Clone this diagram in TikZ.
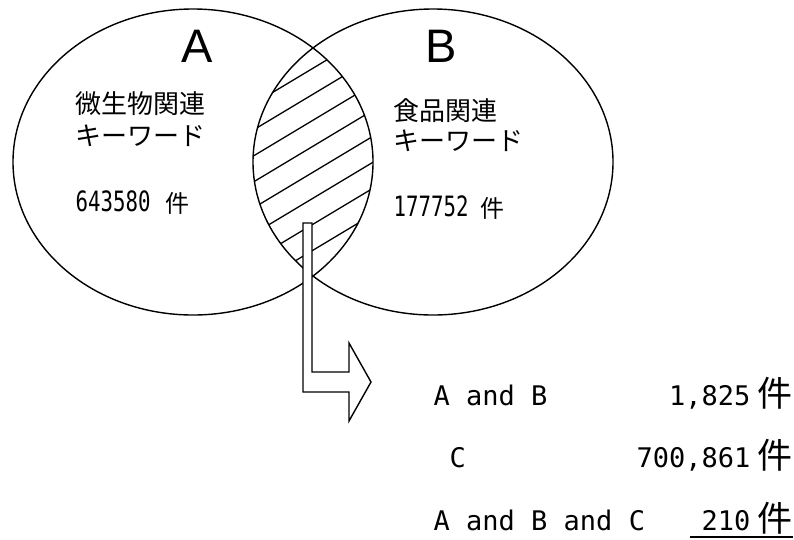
\documentclass[tikz,border=0pt]{standalone}
\usepackage{fontspec}
\usepackage{graphicx}
\setmainfont{Liberation Sans}
\newfontfamily\jpfont{Noto Sans CJK JP}
\newfontfamily\monofnt{DejaVu Sans Mono}
\begin{document}
\begin{tikzpicture}[x=1pt,y=-1pt,line width=1.4pt,
  biglet/.style={font=\fontsize{47}{50}\selectfont,inner sep=0,anchor=base},
  jplabel/.style={font=\jpfont\fontsize{26}{30}\selectfont,inner sep=0,anchor=west},
  cntnum/.style={font=\monofnt\fontsize{28}{30}\selectfont,inner sep=0,anchor=base west},
  cntken/.style={font=\jpfont\fontsize{24}{26}\selectfont,inner sep=0,anchor=base west},
  rowlab/.style={font=\monofnt\fontsize{27}{30}\selectfont,inner sep=0,anchor=base west},
  rownum/.style={font=\monofnt\fontsize{27}{30}\selectfont,inner sep=0,anchor=base east},
  rowken/.style={font=\jpfont\fontsize{35}{38}\selectfont,inner sep=0,anchor=base},
  hatchline/.style={line width=1.3pt},
  blockarrow/.style={draw=black,fill=white,line width=1.4pt,line join=miter}]
\useasboundingbox (0,0) rectangle (794,539);
% hatching in the intersection
\begin{scope}
  \clip (193,162) ellipse (180 and 153);
  \clip (433,162) ellipse (180 and 153);
  \foreach \c in {103,129,155,181,207,233,259,285,311}{
    \draw[hatchline] (240,{\c+0.6*15}) -- (390,{\c-0.6*135});
  }
\end{scope}
% ellipses
\draw (193,162) ellipse (180 and 153);
\draw (433,162) ellipse (180 and 153);
% big letters
\node[biglet] (la) at (197,62) {A};
\node[biglet] (lb) at (441,62) {B};
% labels left
\node[jplabel] (a1) at (75,104) {微生物関連};
\node[jplabel] (a2) at (75,136) {キーワード};
\node[cntnum] (a3) at (75,211) {\scalebox{0.74}[1]{643580}};
\node[cntken] (a4) at (165,212) {件};
% labels right
\node[jplabel] (b1) at (393,111) {食品関連};
\node[jplabel] (b2) at (393,141) {キーワード};
\node[cntnum] (b3) at (393,216) {\scalebox{0.74}[1]{177752}};
\node[cntken] (b4) at (480,217) {件};
% block arrow
\draw[blockarrow] (303,223) -- (312,223) -- (312,372) -- (349,372) -- (349,343)
  -- (371,382) -- (349,421) -- (349,392) -- (303,392) -- cycle;
% result rows
\node[rowlab] (r1) at (433,405) {A and B};
\node[rownum] (n1) at (751,405) {1,825};
\node[rowken] (k1) at (775,406) {件};
\node[rowlab] (r2) at (449,467) {C};
\node[rownum] (n2) at (751,467) {700,861};
\node[rowken] (k2) at (775,468) {件};
\node[rowlab] (r3) at (433,530) {A and B and C};
\node[rownum] (n3) at (751,530) {210};
\node[rowken] (k3) at (775,531) {件};
\coordinate (ul1) at (690,537);
\coordinate (ul2) at (793,537);
\draw[line width=1.8pt] (ul1) -- (ul2);
\end{tikzpicture}
\end{document}
